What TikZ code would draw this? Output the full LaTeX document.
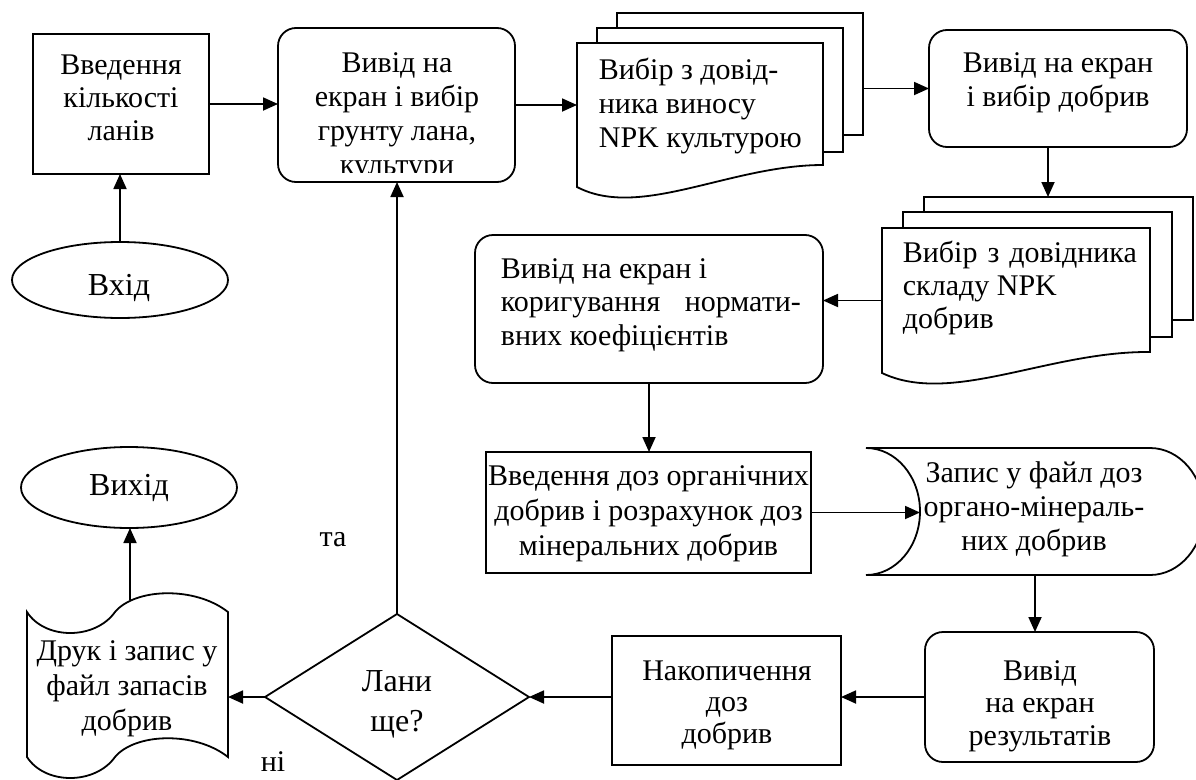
\documentclass[tikz,border=0pt]{standalone}
\usepackage{fontspec}
\setmainfont{Liberation Serif}
\usetikzlibrary{calc,arrows.meta,shapes.geometric}
\newcommand\mltext[7][txt]{%
  \foreach \mlline [count=\mli from 0] in {#7}
    \node[#1, anchor=#3] (#2\mli) at (#4,{#5+#6*\mli}) {\mlline};}
\begin{document}
\begin{tikzpicture}[x=1pt,y=-1pt,line width=1.8pt,
  shp/.style={draw, fill=white, inner sep=0pt, outer sep=0pt},
  ghost/.style={inner sep=0pt, outer sep=0pt},
  rbox/.style={shp, rounded corners=18pt},
  txt/.style={inner sep=0pt, font=\fontsize{30}{34}\selectfont},
  bigtxt/.style={inner sep=0pt, font=\fontsize{32}{38}\selectfont},
  arr/.style={-{Triangle[length=15pt,width=13pt]}},
]
\fill[white] (0,0) rectangle (1196,779);
\useasboundingbox (0,0) rectangle (1196,779);

% box 1
\node[shp, minimum width=176pt, minimum height=140pt] (b1) at (121,104) {};
\mltext{b1t}{base}{121}{74}{33}{Введення,кількості,ланів}

% input
\node[shp, ellipse, minimum width=216pt, minimum height=76pt] (in) at (120,280) {};
\node[bigtxt, anchor=base] (intext) at (119,295) {Вхід};

% box 2
\node[rbox, minimum width=237pt, minimum height=154pt] (b2) at (396.5,105) {};
\begin{scope}
\clip (278,28) rectangle (515,172);
\mltext{b2t}{base}{397}{72}{34}{Вивід на,екран і вибір,{грунту лана,},культури}
\end{scope}

% document 1
\node[shp, minimum width=246pt, minimum height=122pt] (d1c) at (740,74) {};
\node[shp, minimum width=246pt, minimum height=124pt] (d1b) at (720,90) {};
\node[ghost, minimum width=246pt, minimum height=144pt] (d1) at (700,115) {};
\draw[fill=white] (d1.north west) -- (d1.north east) -- (823,165)
  .. controls (730,165) and (640,220) .. (d1.south west) -- cycle;
\mltext{d1t}{base west}{598}{79}{34}{Вибір з довід-,ника виносу,NPK культурою}

% box 3
\node[rbox, minimum width=258pt, minimum height=117pt] (b3) at (1058,88.5) {};
\mltext{b3t}{base}{1058}{72}{34}{Вивід на екран,і вибір добрив}
\coordinate (b3s) at (1048,147);

% document 2
\node[shp, minimum width=269pt, minimum height=123pt] (d2c) at (1058.5,258.5) {};
\node[shp, minimum width=269pt, minimum height=125pt] (d2b) at (1037.5,274.5) {};
\node[ghost, minimum width=268pt, minimum height=145pt] (d2) at (1016,300.5) {};
\draw[fill=white] (d2.north west) -- (d2.north east) -- (1150,352)
  .. controls (1049,351) and (951,406) .. (d2.south west) -- cycle;
\mltext{d2t}{base west}{902}{262}{33}{\makebox[234pt][s]{Вибір з довідника},складу NPK,добрив}

% box 4
\node[rbox, minimum width=348pt, minimum height=148pt] (b4) at (649,309) {};
\mltext{b4t}{base west}{500}{278}{33.5}{Вивід на екран і,\makebox[300pt][s]{коригування нормати-},вних коефіцієнтів}

% box 5
\node[shp, minimum width=325pt, minimum height=121pt] (b5) at (648.5,512.5) {};
\mltext{b5t}{base}{648.5}{485}{35}{Введення доз органічних,добрив і розрахунок доз,мінеральних добрив}

% stored data
\node[ghost, minimum width=230pt, minimum height=127pt] (zap) at (1035,511.5) {};
\draw[fill=white] (866,448) -- (1150,448)
  .. controls (1179.8,448) and (1204,476.4) .. (1204,511.5)
  .. controls (1204,546.6) and (1179.8,575) .. (1150,575) -- (866,575)
  .. controls (895.8,575) and (920,546.6) .. (zap.west)
  .. controls (920,476.4) and (895.8,448) .. (866,448) -- cycle;
\mltext{zapt}{base}{1034}{482}{34}{Запис у файл доз,органо-мінераль-,них добрив}

% box 6
\node[rbox, minimum width=229pt, minimum height=130pt] (b6) at (1039.5,697) {};
\mltext{b6t}{base}{1040}{680}{32.5}{Вивід,на екран,результатів}

% box 7
\node[shp, minimum width=229pt, minimum height=129pt] (b7) at (726.5,700.5) {};
\mltext{b7t}{base}{727}{680}{31.5}{Накопичення,доз,добрив}

% decision
\node[shp, diamond, minimum width=264pt, minimum height=166pt] (dia) at (397,697) {};
\mltext[bigtxt]{diat}{base}{397}{691}{40}{Лани,ще?}

% punched tape
\node[ghost, minimum width=201pt, minimum height=145pt] (tape) at (127.5,684.5) {};
\draw[fill=white] (27,612) .. controls (45,640) and (95,640) .. (115,612)
  .. controls (135,588) and (195,586) .. (228,612) -- (228,757)
  .. controls (195,731) and (135,733) .. (115,757)
  .. controls (95,785) and (45,785) .. (27,757) -- cycle;
\mltext{tapet}{base}{127}{660}{35}{Друк і запис у,файл запасів,добрив}
\coordinate (tapetop) at (130,600);

% output
\node[shp, ellipse, minimum width=216pt, minimum height=81pt] (out) at (129,487.5) {};
\node[bigtxt, anchor=base] (outtext) at (129,495) {Вихід};

% labels
\node[txt, anchor=base] (yes) at (333,546) {та};
\node[txt, anchor=base] (no) at (273,771) {ні};

% connectors
\draw[arr] (in.north) -- (in.north |- b1.south);
\draw[arr] (b1.east) -- (b1.east -| b2.west);
\draw[arr] (b2.east) -- (b2.east -| d1.west);
\draw[arr] (d1c.east |- b3.west) -- (b3.west);
\draw[arr] (b3s) -- (b3s |- d2c.north);
\draw[arr] (d2.west) -- (d2.west -| b4.east);
\draw[arr] (b4.south) -- (b4.south |- b5.north);
\draw[arr] (b5.east) -- (b5.east -| zap.west);
\draw[arr] (zap.south) -- (zap.south |- b6.north);
\draw[arr] (b6.west) -- (b6.west -| b7.east);
\draw[arr] (b7.west |- dia.east) -- (dia.east);
\draw[arr] (dia.north) -- (dia.north |- b2.south);
\draw[arr] (dia.west) -- (dia.west -| tape.east);
\draw[arr] (tapetop) -- (tapetop |- out.south);
\end{tikzpicture}
\end{document}
